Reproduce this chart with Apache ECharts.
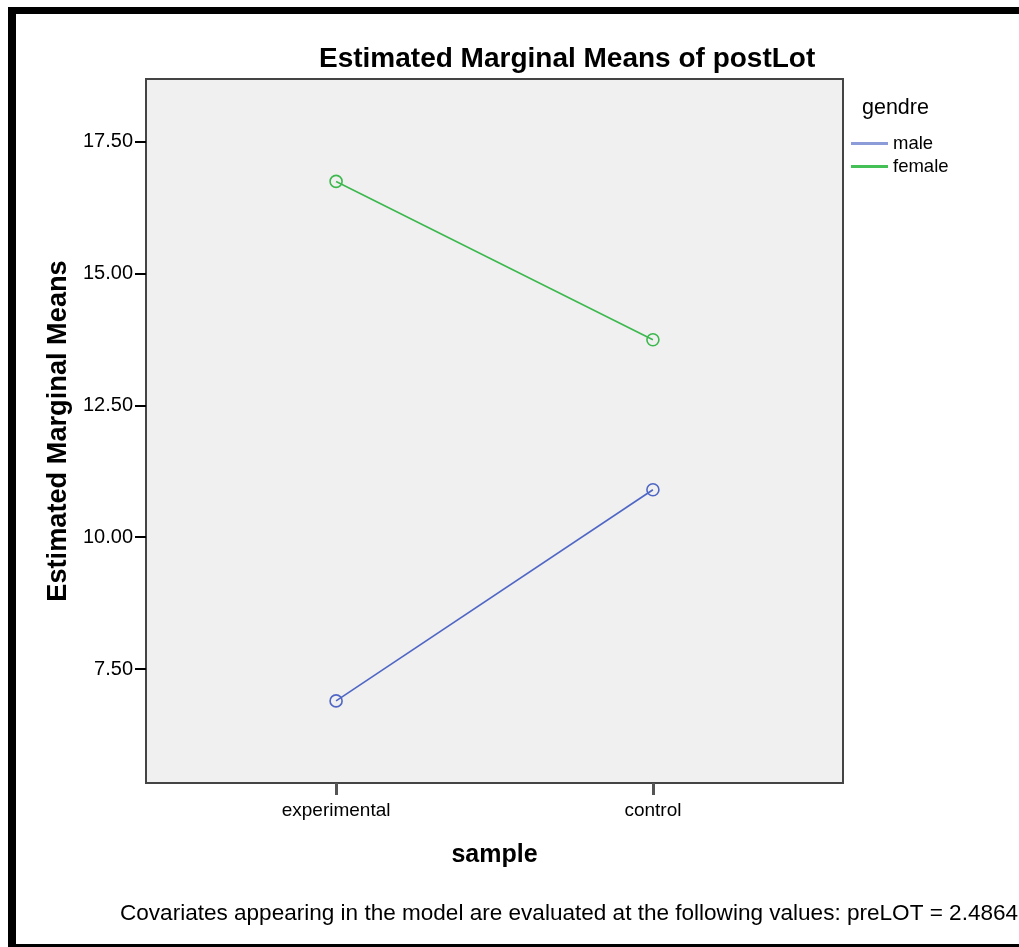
<!DOCTYPE html>
<html>
<head>
<meta charset="utf-8">
<script src="https://cdn.jsdelivr.net/npm/echarts@6/dist/echarts.min.js"></script>
<style>
html,body{margin:0;padding:0;background:#fff;}
#chart{width:1019px;height:947px;}
</style>
</head>
<body>
<div id="chart"></div>
<script>
// ---- data ----
const categories = ['experimental', 'control'];
const seriesNames = ['male', 'female'];
const maleMeans = [6.90, 10.90];
const femaleMeans = [16.74, 13.74];
const yTicks = [7.5, 10, 12.5, 15, 17.5];

const FONT = "'Liberation Sans', Arial, Helvetica, sans-serif";
const maleColor = '#4f66c4';
const femaleColor = '#3cb84e';

const chart = echarts.init(document.getElementById('chart'));
const catIdx = categories.map((c, i) => i);

function mkSeries(name, vals, color) {
  return {
    name: name,
    type: 'line',
    data: catIdx.map(i => [i, vals[i]]),
    symbol: 'circle',
    symbolSize: 12,
    itemStyle: { color: 'rgba(0,0,0,0)', borderColor: color, borderWidth: 1.6 },
    lineStyle: { color: color, width: 1.6 },
    emphasis: { disabled: true },
    silent: true
  };
}

chart.setOption({
  animation: false,
  textStyle: { fontFamily: FONT },
  title: [
    { text: 'Estimated Marginal Means of postLot', left: 314, top: 40,
      textStyle: { fontFamily: FONT, fontSize: 28, fontWeight: 'bold', color: '#000' } },
    { text: 'gendre', left: 857, top: 92,
      textStyle: { fontFamily: FONT, fontSize: 21.5, fontWeight: 'normal', color: '#000' } },
    { text: 'Covariates appearing in the model are evaluated at the following values: preLOT = 2.4864',
      left: 115, top: 897,
      textStyle: { fontFamily: FONT, fontSize: 22.55, fontWeight: 'normal', color: '#000' } }
  ],
  legend: {
    orient: 'vertical', left: 846, top: 129, itemGap: 4,
    itemWidth: 37, itemHeight: 3,
    textStyle: { fontFamily: FONT, fontSize: 18.5, color: '#000' },
    data: [
      { name: seriesNames[0], icon: 'rect', itemStyle: { color: '#8c9cd8', borderWidth: 0 } },
      { name: seriesNames[1], icon: 'rect', itemStyle: { color: '#44c056', borderWidth: 0 } }
    ],
    selectedMode: false
  },
  grid: {
    left: 146, top: 79, right: 176, bottom: 164,
    show: true, backgroundColor: '#f0f0f0', borderColor: '#444', borderWidth: 2
  },
  xAxis: {
    type: 'value', min: -0.6, max: 1.6,
    name: 'sample', nameLocation: 'middle', nameGap: 60,
    nameTextStyle: { fontFamily: FONT, fontSize: 25, fontWeight: 'bold', color: '#000' },
    axisLine: { show: false, onZero: false },
    splitLine: { show: false },
    axisTick: { show: true, length: 12, customValues: catIdx, lineStyle: { color: '#555', width: 3 } },
    axisLabel: { customValues: catIdx, margin: 18, fontFamily: FONT, fontSize: 19, color: '#000',
      formatter: v => categories[Math.round(v)] }
  },
  yAxis: {
    type: 'value', min: 5.345, max: 18.68,
    name: 'Estimated Marginal Means', nameLocation: 'middle', nameRotate: 90, nameGap: 72,
    nameTextStyle: { fontFamily: FONT, fontSize: 27.2, fontWeight: 'bold', color: '#000' },
    axisLine: { show: false, onZero: false },
    splitLine: { show: false },
    axisTick: { show: true, length: 11, customValues: yTicks, lineStyle: { color: '#000', width: 2 } },
    axisLabel: { customValues: yTicks, margin: 13, fontFamily: FONT, fontSize: 20, color: '#000',
      formatter: v => v.toFixed(2) }
  },
  graphic: [
    { type: 'rect', shape: { x: 8, y: 7, width: 1011, height: 7 }, style: { fill: '#000' }, silent: true },
    { type: 'rect', shape: { x: 8, y: 7, width: 8, height: 940 }, style: { fill: '#000' }, silent: true },
    { type: 'rect', shape: { x: 8, y: 944, width: 1011, height: 3 }, style: { fill: '#000' }, silent: true }
  ],
  series: [
    mkSeries(seriesNames[0], maleMeans, maleColor),
    mkSeries(seriesNames[1], femaleMeans, femaleColor)
  ]
});
</script>
</body>
</html>
